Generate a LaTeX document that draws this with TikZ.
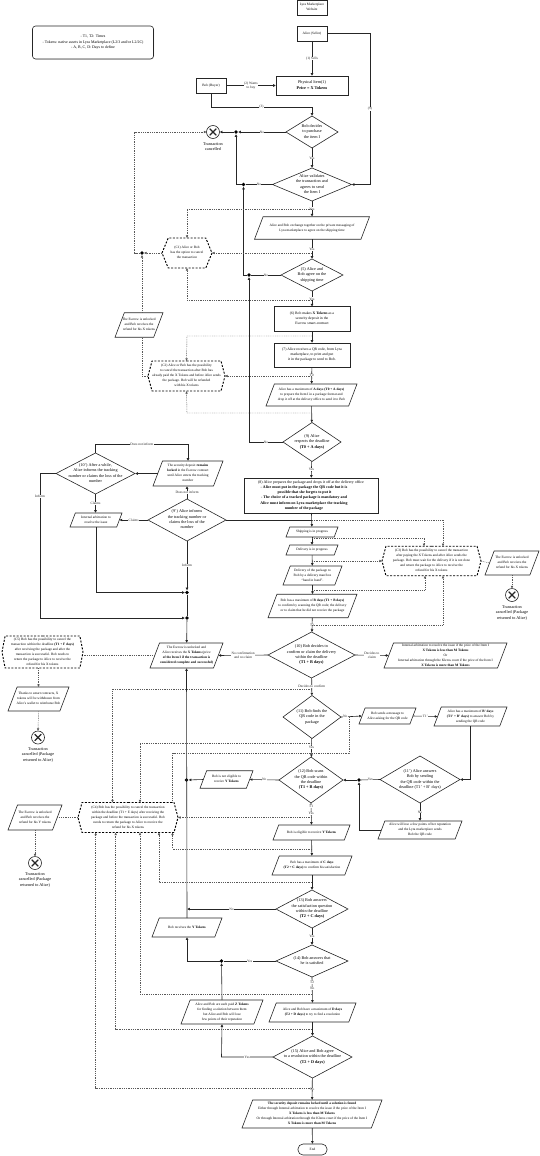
\documentclass[tikz,border=0pt]{standalone}
\usepackage{fontspec}
\setmainfont{Liberation Serif}
\usetikzlibrary{arrows.meta,shapes.geometric,shapes.symbols,shadows}
\newcommand{\fsm}{\fontsize{3.45}{5}\selectfont}
\newcommand{\fmd}{\fontsize{4.2}{5.3}\selectfont}
\newcommand{\flb}{\fontsize{3.5}{4.4}\selectfont}
\newcommand{\ztxt}[1]{\makebox[0pt][c]{\smash{\raisebox{-.25em}{\begin{tabular}{@{}c@{}}#1\end{tabular}}}}}
\newcommand{\bt}[1]{\textbf{#1}}
\newdimen\slXa \newdimen\slXb \newdimen\slYa \newdimen\slYb \newdimen\slS
\makeatletter
\newcommand{\slcalc}{%
  \southwest \slXa=\pgf@x \slYa=\pgf@y
  \northeast \slXb=\pgf@x \slYb=\pgf@y
  \slS=\slYb \advance\slS by -\slYa \slS=0.38\slS}
\pgfdeclareshape{slantbox}{
  \inheritsavedanchors[from=rectangle]
  \inheritanchorborder[from=rectangle]
  \inheritanchor[from=rectangle]{center}
  \inheritanchor[from=rectangle]{north}
  \inheritanchor[from=rectangle]{south}
  \anchor{east}{\slcalc \advance\slXb by -.5\slS \advance\slYa by \slYb \slYa=.5\slYa \pgfqpoint{\slXb}{\slYa}}
  \anchor{west}{\slcalc \advance\slXa by .5\slS \advance\slYa by \slYb \slYa=.5\slYa \pgfqpoint{\slXa}{\slYa}}
  \backgroundpath{
    \slcalc
    \pgfpathmoveto{\pgfqpoint{\slXa}{\slYa}}
    \advance\slXb by -\slS
    \pgfpathlineto{\pgfqpoint{\slXb}{\slYa}}
    \advance\slXb by \slS
    \pgfpathlineto{\pgfqpoint{\slXb}{\slYb}}
    \advance\slXa by \slS
    \pgfpathlineto{\pgfqpoint{\slXa}{\slYb}}
    \pgfpathclose
  }
}
\makeatother
\tikzset{
  shp/.style={draw=black!85,line width=.6pt,inner sep=0pt,outer sep=0pt,font=\fsm},
  procbox/.style 2 args={shp,rectangle,minimum width=#1pt,minimum height=#2pt},
  decide/.style 2 args={shp,diamond,font=\fmd,minimum width=#1pt,minimum height=#2pt},
  iobox/.style 2 args={shp,shape=slantbox,minimum width=#1pt,minimum height=#2pt},
  cancelbox/.style n args={3}{shp,signal,signal to=east and west,signal from=nowhere,signal pointer angle=#3,draw=black,line width=.95pt,dash pattern=on 2pt off 1.5pt,minimum width=#1pt,minimum height=#2pt},
  endx/.style={shp,circle,line width=.6pt,minimum size=13pt,path picture={\draw[line width=1.15pt] ([shift={(-3.3pt,-3.3pt)}]path picture bounding box.center)--([shift={(3.3pt,3.3pt)}]path picture bounding box.center) ([shift={(-3.3pt,3.3pt)}]path picture bounding box.center)--([shift={(3.3pt,-3.3pt)}]path picture bounding box.center);}},
  junct/.style={circle,fill=black,draw=none,inner sep=0pt,minimum size=3.6pt},
  free/.style={font=\fmd,align=center,inner sep=0pt},
  lab/.style={font=\flb,fill=white,inner sep=.3pt,align=center,text=black!85},
  arr/.style={draw=black!85,line width=.6pt,-{Latex[length=2.8pt,width=2.8pt]}},
  plain/.style={draw=black!85,line width=.6pt},
  dotarr/.style={draw=black!65,line width=.45pt,dash pattern=on .9pt off .9pt,-{Latex[length=2.6pt,width=2.6pt]}},
  dotline/.style={draw=black!65,line width=.45pt,dash pattern=on .9pt off .9pt},
}
\begin{document}
\begin{tikzpicture}[x=1pt,y=-1pt]
\useasboundingbox (0,0) rectangle (540,1156);
% nodes
\node[procbox={30}{15}] (web) at (312,7.5) {\ztxt{Lyra Marketplace\\Website}};
\node[procbox={30}{15}] (alice) at (312,33.5) {\ztxt{Alice (Seller)}};
\node[shp,rectangle,rounded corners=3pt,fill=white,minimum width=121pt,minimum height=33pt,font=\fontsize{3.9}{5.3}\selectfont,drop shadow={shadow xshift=.5pt,shadow yshift=-.5pt,opacity=.35}] (legend) at (93,42.5) {\ztxt{- T1, T2: Times\\- Tokens: native assets in Lyra Marketplace (L2/3 and/or L2/2C)\\- A, B, C, D: Days to define}};
\node[procbox={30}{15}] (bob) at (211,85.5) {\ztxt{Bob (Buyer)}};
\node[procbox={72}{19},font=\fmd] (item) at (312,85.5) {\ztxt{Physical Item(1)\\\bt{Price = X Tokens}}};
\node[decide={52}{32}] (d1) at (312,132) {\ztxt{Bob decides\\to purchase\\the item I}};
\node[endx] (x1) at (213,132) {};
\node[free] (t1) at (213,146.5) {Transaction\\cancelled};
\node[decide={79}{33}] (d2) at (312,184.5) {\ztxt{Alice validates\\the transaction and\\agrees to send\\the Item I}};
\node[iobox={115}{22.5}] (p1) at (312,228) {\ztxt{Alice and Bob exchange together on the private messaging of\\Lyra marketplace to agree on the shipping time}};
\node[decide={62}{32}] (d5) at (312,275) {\ztxt{(5) Alice and\\Bob agree on the\\shipping time}};
\node[cancelbox={50}{30}{135}] (c1) at (187,253) {\ztxt{(C1) Alice or Bob\\has the option to cancel\\the transaction}};
\node[iobox={48}{24.5}] (e1) at (139,325) {\ztxt{The Escrow is unlocked\\and Bob receives the\\refund for his X tokens}};
\node[cancelbox={77}{30}{150}] (c2) at (186.5,376) {\ztxt{(C2) Alice or Bob has the possibility\\to cancel the transaction after Bob has\\already paid the X Tokens and before Alice sends\\the package. Bob will be refunded\\with his X tokens}};
\node[procbox={76}{24.5},font=\fontsize{3.7}{5.2}\selectfont] (b6) at (312,319) {\ztxt{(6) Bob makes \bt{X Tokens} as a\\security deposit in the\\Escrow smart-contract}};
\node[procbox={76}{24},font=\fontsize{3.7}{5.2}\selectfont] (b7) at (312,355) {\ztxt{(7) Alice receives a QR code, from Lyra\\marketplace, to print and put\\it in the package to send to Bob.}};
\node[iobox={91}{22}] (p2) at (311.5,395) {\ztxt{Alice has a maximum of \bt{A days (T0 + A days)}\\to prepare the Item I in a package format and\\drop it off at the delivery office to send it to Bob}};
\node[decide={58}{39}] (d9) at (312,442) {\ztxt{(9) Alice\\respects the deadline\\\bt{(T0 + A days)}}};
\node[procbox={134}{35},font=\fontsize{3.9}{5.2}\selectfont] (b8) at (311,495.5) {\ztxt{(8) Alice prepares the package and drops it off at the delivery office\\\hspace*{-14pt}\bt{- Alice must put in the package the QR code but it is}\\\hspace*{-13pt}\bt{possible that she forgets to put it}\\\hspace*{-14pt}\bt{- The choice of a tracked package is mandatory and}\\\hspace*{-14pt}\bt{Alice must inform on Lyra marketplace the tracking}\\\hspace*{-14pt}\bt{number of the package}}};
\node[decide={78}{42}] (d9p) at (187,520) {\ztxt{(9') Alice informs\\the tracking number or\\claims the loss of the\\number}};
\node[iobox={70}{25}] (p3) at (188,473.5) {\ztxt{The security deposit \bt{remains}\\\bt{locked} in the Escrow contract\\until Alice enters the tracking\\number}};
\node[decide={79}{41}] (d10p) at (95.5,473.5) {\ztxt{(10') After a while,\\Alice informs the tracking\\number or claims the loss of the\\number}};
\node[iobox={52}{14}] (p4) at (96,520) {\ztxt{Internal arbitration to\\resolve the issue}};
\node[junct] (j1) at (187,592.5) {};
\node[junct] (j2) at (187,618) {};
\node[iobox={52}{10}] (p5) at (312,532) {\ztxt{Shipping is in progress}};
\node[iobox={52}{10}] (p6) at (312,550) {\ztxt{Delivery is in progress}};
\node[iobox={59}{19}] (p7) at (312.5,575.5) {\ztxt{Delivery of the package to\\Bob by a delivery man/box\\``hand in hand''.}};
\node[iobox={89}{23.5}] (p8) at (312.5,606) {\ztxt{Bob has a maximum of \bt{B days} \bt{(T1 + B days)}\\to confirm by scanning the QR code; the delivery\\or to claim that he did not receive the package}};
\node[cancelbox={99}{29.5}{150}] (c3) at (431.5,561) {\ztxt{(C3) Bob has the possibility to cancel the transaction\\after paying the X Tokens and after Alice sends the\\package. Bob must wait for the delivery if it is not done\\and return the package to Alice to receive the\\refund for his X tokens}};
\node[iobox={54}{24}] (p9) at (512,563) {\ztxt{The Escrow is unlocked\\and Bob receives the\\refund for his X tokens}};
\node[endx] (x3) at (512,595) {};
\node[free] (t3) at (512,613) {Transaction\\cancelled (Package\\returned to Alice)};
\node[decide={87}{46}] (d10) at (311.5,655) {\ztxt{(10) Bob decides to\\confirm or claim the delivery\\within the deadline\\\bt{(T1 + B days)}}};
\node[iobox={123}{25}] (p10) at (445.5,655.5) {\ztxt{Internal arbitration to resolve the issue if the price of the Item I\\\bt{X Tokens is less than M Tokens}\\Or\\Internal arbitration through the Kleros court if the price of the Item I\\\bt{X Tokens is more than M Tokens}}};
\node[decide={58}{43}] (d11) at (312,717) {\ztxt{(11) Bob finds the\\QR code in the\\package}};
\node[iobox={57}{16}] (p11) at (387.5,716) {\ztxt{Bob sends a message to\\Alice asking for the QR code}};
\node[iobox={73}{19}] (p12) at (470.5,716.5) {\ztxt{Alice has a maximum of \bt{B' days}\\\bt{(T1' + B' days)} to answer Bob by\\sending the QR code}};
\node[decide={64}{46}] (d12) at (311,780) {\ztxt{(12) Bob scans\\the QR code within\\the deadline\\\bt{(T1 + B days)}}};
\node[decide={80}{47}] (d11p) at (420,779.5) {\ztxt{(11') Alice answers\\Bob by sending\\the QR code within the\\deadline (T1' + B' days)}};
\node[junct] (j3) at (359,780) {};
\node[iobox={84}{18}] (p13) at (420,830) {\ztxt{Alice will lose a few points of her reputation\\and the Lyra marketplace sends\\Bob the QR code}};
\node[iobox={53}{17.5}] (p14) at (226.5,779.5) {\ztxt{Bob is not eligible to\\receive \bt{Y Tokens}}};
\node[junct] (j4) at (186.5,780) {};
\node[iobox={77}{15}] (p15) at (311.5,832.5) {\ztxt{Bob is eligible to receive \bt{Y Tokens}}};
\node[iobox={80}{19}] (p16) at (312,865.5) {\ztxt{Bob has a maximum of \bt{C days}\\\bt{(T2 + C days)} to confirm his satisfaction}};
\node[decide={72}{38}] (d13) at (312,909) {\ztxt{(13) Bob answers\\the satisfaction question\\within the deadline\\\bt{(T2 + C days)}}};
\node[decide={72}{32}] (d14) at (312,961) {\ztxt{(14) Bob answers that\\he is satisfied}};
\node[iobox={70}{19}] (p17) at (187,927.5) {\ztxt{Bob receives the \bt{Y Tokens}}};
\node[junct] (j5) at (221.5,961) {};
\node[iobox={82}{24}] (p18) at (222,1012) {\ztxt{Alice and Bob are each paid \bt{Z Tokens}\\for finding a solution between them\\but Alice and Bob will lose\\few points of their reputation}};
\node[iobox={87}{19}] (p19) at (312.5,1012.5) {\ztxt{Alice and Bob have a maximum of \bt{D days}\\\bt{(T2 + D days)} to try to find a resolution}};
\node[decide={79}{42}] (d15) at (312.5,1057) {\ztxt{(15) Alice and Bob agree\\to a resolution within the deadline\\\bt{(T2 + D days)}}};
\node[iobox={140}{28}] (p20) at (312,1114) {\ztxt{\bt{The security deposit remains locked until a solution is found}\\Either through Internal arbitration to resolve the issue if the price of the Item I\\\bt{X Tokens is less than M Tokens}\\Or through Internal arbitration through the Kleros court if the price of the Item I\\\bt{X Tokens is more than M Tokens}}};
\node[shp,rectangle,rounded corners=5pt,minimum width=29pt,minimum height=11pt] (fin) at (312.5,1149.5) {\ztxt{End}};
\node[iobox={73}{25}] (p21) at (186.5,655.5) {\ztxt{The Escrow is unlocked and\\Alice receives the \bt{X Tokens} (price\\\bt{of the Item I if the transaction is}\\\bt{considered complete and successful)}}};
\node[cancelbox={81}{32}{158}] (c5) at (42.5,652) {\ztxt{(C5) Bob has the possibility to cancel the\\transaction within the deadline \bt{(T1 + F days)}\\after receiving the package and after the\\transaction is successful. Bob needs to\\return the package to Alice to receive the\\refund for his X tokens}};
\node[iobox={61}{24}] (p22) at (38.5,699) {\ztxt{Thanks to smart contracts, X\\tokens will be withdrawn from\\Alice's wallet to reimburse Bob}};
\node[endx] (x5) at (38,737.5) {};
\node[free] (t5) at (38,755) {Transaction\\cancelled (Package\\returned to Alice)};
\node[cancelbox={100}{30}{150}] (c4) at (128,817.5) {\ztxt{(C4) Bob has the possibility to cancel the transaction\\within the deadline (T1 + E days) after receiving the\\package and before the transaction is successful. Bob\\needs to return the package to Alice to receive the\\refund for his X tokens}};
\node[iobox={54}{25}] (p23) at (35,817.5) {\ztxt{The Escrow is unlocked\\and Bob receives the\\refund for his Y tokens}};
\node[endx] (x4) at (35,863) {};
\node[free] (t4) at (35,880) {Transaction\\cancelled (Package\\returned to Alice)};
\node[junct] (j6) at (236,132) {};
\node[junct] (j7) at (243.5,184.5) {};
\node[junct] (j8) at (249,275) {};
\node[junct] (j9) at (142,253) {};
% bends
\coordinate (s209) at (312,209); \coordinate (s253) at (312,253); \coordinate (s300) at (312,300);
\coordinate (s336) at (312,336); \coordinate (s376) at (312,376); \coordinate (s413) at (312,413);
\coordinate (s520) at (312,520); \coordinate (s538) at (312,538); \coordinate (s561) at (312,561);
\coordinate (s590) at (312,590); \coordinate (s625) at (312,625); \coordinate (s689) at (312,689);
\coordinate (s743) at (312,743); \coordinate (s817) at (312,817.5); \coordinate (s849) at (312,849);
\coordinate (s882) at (312,882); \coordinate (s994) at (312,994); \coordinate (s1029) at (312,1029);
\coordinate (s1088) at (312,1088);
\coordinate (n717) at (349,717);
% solid connectors
\draw[arr] (alice) -- node[lab] (l1) {(1) Sells} (item);
\draw[arr] (bob) -- node[lab] (l2) {(2) Wants\\to buy} (item);
\draw[arr] (bob.south) |- node[lab,pos=.75] (l3) {(3)} (312,107) -- (d1.north);
\draw[arr] (alice.east) -| node[lab,pos=.75] (l4) {(9)} (370,184.5) -- (d2.east);
\draw[arr] (d1) -- node[lab] (l5) {Yes} (d2);
\draw[arr] (d1) -- node[lab] (l6) {No} (j6);
\draw[arr] (j6) -- (x1);
\draw[plain] (d2) -- node[lab] (l7) {No} (j7);
\draw[arr] (j7) -- (236,184.5) -- (j6);
\draw[arr] (d2) -- node[lab] (l8) {Yes} (p1);
\draw[arr] (p1) -- node[lab] (l9) {Yes} (d5);
\draw[plain] (d5) -- node[lab] (l10) {No} (j8);
\draw[arr] (j8) -- (243.5,275) -- (j7);
\draw[arr] (d5) -- node[lab] (l11) {Yes} (b6);
\draw[arr] (b6) -- (b7);
\draw[arr] (b7) -- node[lab] (l12) {T0} (p2);
\draw[arr] (p2) -- (d9);
\draw[arr] (d9.west) -- node[lab] (l13) {No} (249,442) -- (j8);
\draw[arr] (d9) -- node[lab] (l14) {Yes} (b8);
\draw[arr] (b8) -- (p5);
\draw[plain] (s520) -- (d9p.east);
\draw[arr] (p5) -- (p6);
\draw[arr] (p6) -- (p7);
\draw[arr] (p7) -- (p8);
\draw[arr] (p8) -- node[lab] (l15) {T1} (d10);
\draw[arr] (d9p.north) -- node[lab] (l16) {Does not inform} (d9p.north |- p3.south);
\draw[arr] (p3.west) -- (d10p.east);
\draw[arr] (d10p.north) |- node[lab,pos=.75] (l17) {Does not inform} (188,444) -- (p3.north);
\draw[arr] (d10p.south) -- node[lab] (l18) {Claims} (d10p.south |- p4.north);
\draw[arr] (d9p.west) -- node[lab] (l19) {Claims} (p4.east);
\draw[arr] (d9p) -- node[lab] (l20) {Inform} (j1);
\draw[arr] (p4.south) |- (j1);
\draw[arr] (d10p.west) -- (40,473.5) -- node[lab,pos=.16] (l21) {Inform} (40,618) -- (j2);
\draw[plain] (j1) -- (j2);
\draw[arr] (j2) -- (p21);
\draw[arr] (d10.west) -- node[lab] (l22) {No confirmation\\and no claim} (p21.east);
\draw[arr] (d10.east) -- node[lab] (l23) {Decides to\\claim} (p10.west);
\draw[arr] (d10) -- node[lab] (l24) {Decides to confirm} (d11);
\draw[arr] (d11.east) -- node[lab,pos=.2] (l25) {No} (p11.west);
\draw[arr] (p11.east) -- node[lab] (l26) {T1'} (p12.west);
\draw[arr] (p12.south) |- (d11p.east);
\draw[plain] (d11p.west) -- node[lab] (l27) {Yes} (j3);
\draw[arr] (j3) -- (d12);
\draw[arr] (d11p) -- node[lab] (l28) {No} (p13);
\draw[arr] (p13.west) -| (j3);
\draw[arr] (d11) -- node[lab] (l29) {Yes} (d12);
\draw[arr] (d12.west) -- node[lab] (l30) {No} (p14.east);
\draw[arr] (p14.west) -- (j4);
\draw[arr] (d12.south) -- node[lab,pos=.15] (l31) {T1} node[lab,pos=.48] (l32) {Yes} (p15.north);
\draw[arr] (p15) -- (p16);
\draw[arr] (p16) -- (d13);
\draw[arr] (d13) -- node[lab] (l33) {Yes} (d14);
\draw[arr] (d13.west) -- node[lab] (l34) {No} (p17.north |- d13.west);
\draw[arr] (p17.north) -- (p21.south);
\draw[plain] (d14) -- node[lab] (l35) {Yes} (j5);
\draw[arr] (j5) -- (187,961) -- (p17.south);
\draw[arr] (d14.south) -- node[lab,pos=.2] (l36) {T2} node[lab,pos=.45] (l37) {No} (p19.north);
\draw[arr] (p19) -- (d15);
\draw[arr] (d15) -- node[lab] (l38) {No} (p20);
\draw[arr] (p20) -- (fin);
\draw[arr] (d15.west) -- node[lab] (l39) {Yes} (221.5,1057) -- (p18.south);
\draw[arr] (p18.north) -- (j5);
% dotted connectors
\draw[dotarr] (s209) -- (187,209) -- (c1.north);
\draw[dotarr] (s253) -- (c1.east);
\draw[dotarr] (s300) -- (187,300) -- (c1.south);
\draw[dotarr] (c1.west) -- (j9);
\draw[dotarr] (j9) -- (134.5,253) -- (134.5,132) -- (x1.west);
\draw[dotarr] (e1.north -| j9) -- (j9);
\draw[dotline] (c2.west) -- (142,376) -- (e1.south -| j9);
\draw[dotarr] (s336) -- (187,336) -- (c2.north);
\draw[dotarr] (s376) -- (c2.east);
\draw[dotarr] (s413) -- (187,413) -- (c2.south);
\draw[dotarr] (s520) -- (443,520) -- (443,546.3);
\draw[dotarr] (s538) -- (424,538) -- (424,546.3);
\draw[dotarr] (s561) -- (c3.west);
\draw[dotarr] (s590) -- (425,590) -- (425,575.7);
\draw[dotarr] (s625) -- (443,625) -- (443,575.7);
\draw[dotline] (c3.east) -- (p9.west);
\draw[dotarr] (p9.south) -- (x3.north);
\draw[dotline] (p21.west) -- (p21.west -| c5.east);
\draw[dotarr] (c5.south -| p22.north) -- (p22.north);
\draw[dotarr] (p22.south) -- (x5.north);
\draw[dotarr] (s689) -- (112.5,689) -- (112.5,802.5);
\draw[dotarr] (s743) -- (140,743) -- (140,802.5);
\draw[dotline] (n717) -- (349,753) -- (172.5,753) -- (172.5,802.5);
\draw[dotarr] (s817) -- (c4.east);
\draw[dotarr] (s849) -- (172.5,849) -- (172.5,832.5);
\draw[dotarr] (s882) -- (159,882) -- (159,832.5);
\draw[dotarr] (s994) -- (140,994) -- (140,832.5);
\draw[dotarr] (s1029) -- (115.7,1029) -- (115.7,832.5);
\draw[dotarr] (s1088) -- (95.7,1088) -- (95.7,832.5);
\draw[dotline] (c4.west) -- (p23.east);
\draw[dotarr] (p23.south -| x4.north) -- (x4.north);
\end{tikzpicture}
\end{document}
